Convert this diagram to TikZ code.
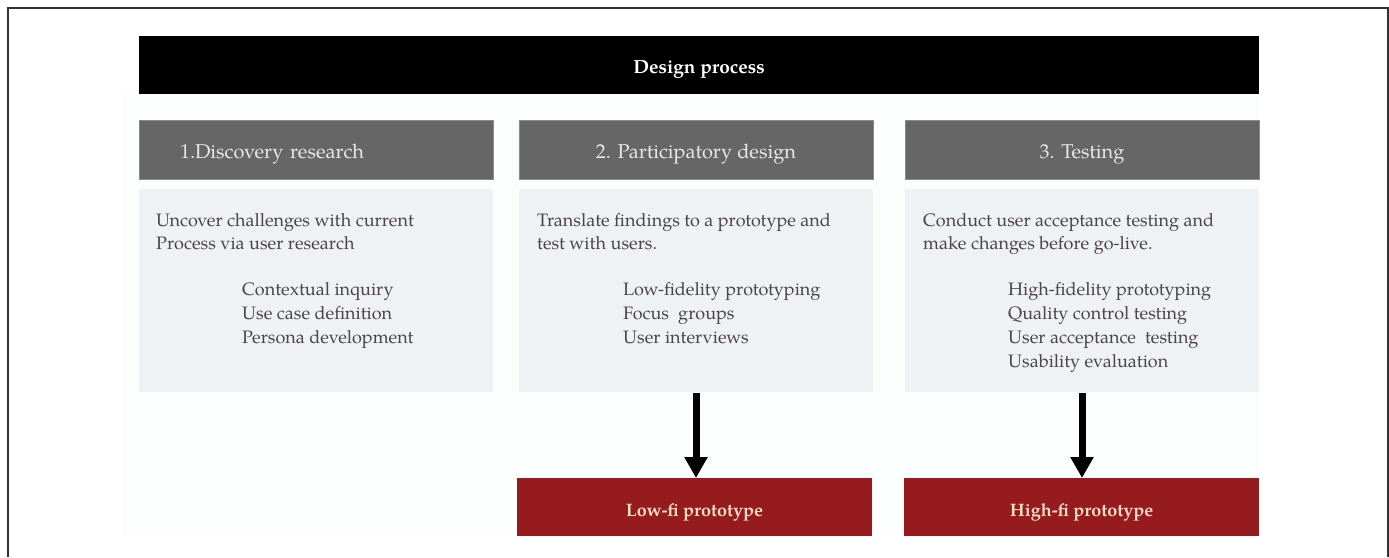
\documentclass[tikz,border=0pt]{standalone}
\usepackage{fontspec}
\setmainfont{TeX Gyre Pagella}
\usetikzlibrary{arrows.meta}
\definecolor{hdrgray}{HTML}{666666}
\definecolor{hdrline}{HTML}{8A8A8A}
\definecolor{bodybg}{HTML}{EFF2F5}
\definecolor{panelbg}{HTML}{FCFDFD}
\definecolor{redbox}{HTML}{961B1F}
\definecolor{redtext}{HTML}{F4DCC6}
\definecolor{bodytext}{HTML}{4C4444}
\definecolor{hdrtext}{HTML}{E8E8E8}
\definecolor{frame}{HTML}{333333}
\begin{document}
\begin{tikzpicture}[x=1pt,y=-1pt,
  box/.style={rectangle,anchor=north west,inner sep=0pt,outer sep=0pt,text depth=0pt},
  titlebox/.style={box,fill=black,text=white,font=\fontsize{19}{22}\selectfont\bfseries,minimum width=1120pt,minimum height=58pt,text height=16pt},
  hdrbox/.style={box,fill=hdrgray,draw=hdrline,line width=0.8pt,text=hdrtext,font=\fontsize{20}{24}\selectfont,minimum width=354pt,minimum height=59pt,text height=17pt},
  bodybox/.style={box,fill=bodybg,minimum width=354pt,minimum height=203pt},
  protobox/.style={box,fill=redbox,text=redtext,font=\fontsize{18}{22}\selectfont\bfseries,minimum width=355pt,minimum height=58pt,text height=18pt},
  bodyline/.style={anchor=base west,inner sep=0pt,text=bodytext,font=\fontsize{18}{22}\selectfont},
  flowarrow/.style={draw=black,line width=7pt,-{Triangle[length=21pt 0 0,width=22pt 0 0]}}
]
\useasboundingbox (0,0) rectangle (1389,557);
% outer frame (no bottom edge)
\draw[frame,line width=2.5pt] (8,557) -- (8,8) -- (1388,8) -- (1388,557);
% faint panel
\fill[panelbg] (121,94) rectangle (1259,536);
% title bar
\node[titlebox] (title) at (139,36) {Design process};
% column headers
\node[hdrbox,text width=272pt,align=left,inner xsep=41pt] (h1) at (139,120) {1.Discovery research};
\node[hdrbox] (h2) at (519,120) {2. Participatory design};
\node[hdrbox] (h3) at (905,120) {3. Testing};
% body panels
\node[bodybox] (c1) at (139,189) {};
\node[bodybox] (c2) at (519,189) {};
\node[bodybox] (c3) at (905,189) {};
% column 1 text
\node[bodyline] (c1a) at (156,226) {Uncover challenges with current};
\node[bodyline] (c1b) at (156,249.5) {Process via user research};
\node[bodyline] (c1s1) at (242,295) {Contextual inquiry};
\node[bodyline] (c1s2) at (242,319) {Use case definition};
\node[bodyline] (c1s3) at (242,343) {Persona development};
% column 2 text
\node[bodyline] (c2a) at (537,226) {Translate findings to a prototype and};
\node[bodyline] (c2b) at (537,249.5) {test with users.};
\node[bodyline] (c2s1) at (623,295) {Low-fidelity prototyping};
\node[bodyline] (c2s2) at (623,319) {Focus\ \ groups};
\node[bodyline] (c2s3) at (623,343) {User interviews};
% column 3 text
\node[bodyline] (c3a) at (923,226) {Conduct user acceptance testing and};
\node[bodyline] (c3b) at (923,249.5) {make changes before go-live.};
\node[bodyline] (c3s1) at (1008,295) {High-fidelity prototyping};
\node[bodyline] (c3s2) at (1008,319) {Quality control testing};
\node[bodyline] (c3s3) at (1008,343) {User acceptance\ \ testing};
\node[bodyline] (c3s4) at (1008,367) {Usability evaluation};
% prototype boxes
\node[protobox] (r2) at (517,478) {Low-fi prototype};
\node[protobox] (r3) at (904,478) {High-fi prototype};
% arrows
\coordinate (a2) at ([yshift=-1pt]c2.south -| 696,0);
\coordinate (a3) at ([yshift=-1pt]c3.south -| 1082,0);
\draw[flowarrow] (a2) -- (a2 |- r2.north);
\draw[flowarrow] (a3) -- (a3 |- r3.north);
\end{tikzpicture}
\end{document}
